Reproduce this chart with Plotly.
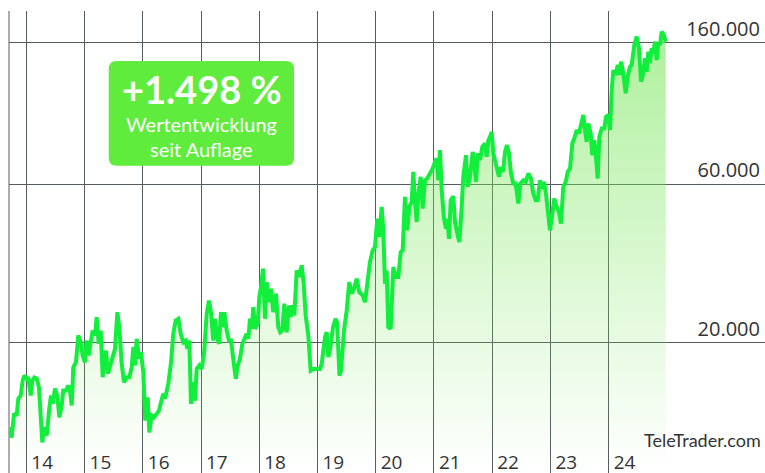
import plotly.graph_objects as go

# time in decimal years
years = [
    2013.708, 2013.749, 2013.789, 2013.835, 2013.863, 2013.904, 2013.938, 2013.966, 2014.007, 2014.034,
    2014.076, 2014.103, 2014.137, 2014.179, 2014.218, 2014.247, 2014.275, 2014.309, 2014.350, 2014.395,
    2014.424, 2014.453, 2014.493, 2014.532, 2014.567, 2014.608, 2014.635, 2014.682, 2014.721, 2014.750,
    2014.780, 2014.807, 2014.853, 2014.893, 2014.934, 2014.968, 2015.008, 2015.037, 2015.071, 2015.106,
    2015.140, 2015.180, 2015.209, 2015.243, 2015.278, 2015.312, 2015.339, 2015.369, 2015.403, 2015.437,
    2015.484, 2015.523, 2015.563, 2015.597, 2015.638, 2015.678, 2015.724, 2015.769, 2015.810, 2015.837,
    2015.866, 2015.896, 2015.935, 2015.969, 2016.009, 2016.043, 2016.084, 2016.112, 2016.153, 2016.193,
    2016.239, 2016.278, 2016.313, 2016.352, 2016.382, 2016.411, 2016.438, 2016.485, 2016.524, 2016.565,
    2016.610, 2016.651, 2016.696, 2016.737, 2016.764, 2016.799, 2016.828, 2016.867, 2016.897, 2016.926,
    2016.970, 2017.012, 2017.056, 2017.098, 2017.137, 2017.171, 2017.211, 2017.240, 2017.280, 2017.309,
    2017.343, 2017.372, 2017.400, 2017.441, 2017.480, 2017.515, 2017.554, 2017.596, 2017.630, 2017.669,
    2017.709, 2017.743, 2017.784, 2017.812, 2017.841, 2017.870, 2017.898, 2017.927, 2017.973, 2018.001,
    2018.030, 2018.064, 2018.099, 2018.128, 2018.167, 2018.202, 2018.241, 2018.287, 2018.327, 2018.361,
    2018.396, 2018.430, 2018.471, 2018.511, 2018.540, 2018.574, 2018.602, 2018.643, 2018.682, 2018.729,
    2018.763, 2018.797, 2018.842, 2018.883, 2018.928, 2018.986, 2019.043, 2019.072, 2019.100, 2019.129,
    2019.158, 2019.186, 2019.227, 2019.266, 2019.309, 2019.335, 2019.378, 2019.404, 2019.455, 2019.501,
    2019.546, 2019.587, 2019.627, 2019.673, 2019.718, 2019.776, 2019.816, 2019.855, 2019.901, 2019.948,
    2019.987, 2020.027, 2020.061, 2020.102, 2020.130, 2020.159, 2020.188, 2020.216, 2020.257, 2020.302,
    2020.348, 2020.387, 2020.429, 2020.463, 2020.502, 2020.542, 2020.576, 2020.618, 2020.645, 2020.674,
    2020.703, 2020.731, 2020.772, 2020.806, 2020.846, 2020.885, 2020.932, 2020.978, 2021.018, 2021.047,
    2021.074, 2021.103, 2021.133, 2021.172, 2021.206, 2021.229, 2021.258, 2021.287, 2021.332, 2021.361,
    2021.407, 2021.435, 2021.476, 2021.503, 2021.550, 2021.579, 2021.619, 2021.665, 2021.692, 2021.722,
    2021.751, 2021.790, 2021.830, 2021.876, 2021.905, 2021.933, 2021.962, 2021.991, 2022.019, 2022.048,
    2022.077, 2022.117, 2022.151, 2022.185, 2022.220, 2022.254, 2022.288, 2022.323, 2022.362, 2022.403,
    2022.448, 2022.482, 2022.534, 2022.575, 2022.620, 2022.666, 2022.705, 2022.747, 2022.781, 2022.820,
    2022.850, 2022.889, 2022.923, 2022.953, 2022.992, 2023.021, 2023.066, 2023.107, 2023.147, 2023.181,
    2023.220, 2023.262, 2023.296, 2023.336, 2023.375, 2023.409, 2023.451, 2023.490, 2023.524, 2023.564,
    2023.593, 2023.622, 2023.650, 2023.691, 2023.718, 2023.753, 2023.782, 2023.811, 2023.839, 2023.880,
    2023.924, 2023.954, 2023.993, 2024.022, 2024.052, 2024.079, 2024.120, 2024.155, 2024.182, 2024.211,
    2024.251, 2024.292, 2024.326, 2024.366, 2024.395, 2024.440, 2024.481, 2024.520, 2024.555, 2024.594,
    2024.623, 2024.653, 2024.680, 2024.709, 2024.738, 2024.766, 2024.795, 2024.824, 2024.852, 2024.881,
    2024.910, 2024.944, 2024.979,
]

values = [
    11140, 10380, 12250, 12080, 13580, 13880, 15390, 15940, 15610, 15750,
    13880, 15390, 15720, 15610, 14670, 12360, 10030, 11140, 10510, 12680,
    13880, 13120, 14570, 13880, 11940, 12950, 14360, 14360, 14880, 14360,
    12950, 16880, 17480, 21040, 20080, 18320, 17480, 20310, 18320, 20080,
    21770, 21040, 23890, 19860, 21770, 15750, 17680, 18950, 16160, 16880,
    18320, 19180, 24730, 22290, 17290, 15220, 15750, 15750, 16880, 19400,
    17090, 20560, 17930, 18730, 16300, 11660, 13710, 10750, 12080, 11940,
    12220, 12500, 13240, 14040, 13580, 14360, 15050, 17440, 21290, 23340,
    23620, 21290, 20080, 20310, 19180, 20310, 13100, 15220, 13390, 16690,
    17090, 16690, 18950, 24460, 26810, 24730, 20310, 23620, 20560, 19860,
    24730, 22290, 24730, 21770, 20310, 20310, 17290, 15580, 17090, 17900,
    19860, 20560, 21290, 20560, 23620, 22040, 25600, 22040, 22820, 27450,
    29420, 33420, 23620, 30450, 26500, 29090, 24730, 28100, 22290, 21520,
    21770, 26220, 21520, 25910, 23890, 25910, 24180, 33020, 31530, 34210,
    30120, 24180, 21040, 16490, 16690, 16690, 16690, 17290, 18950, 20790,
    21520, 18100, 19630, 22290, 23620, 23070, 15940, 16490, 21770, 25010,
    30450, 28100, 29090, 31180, 28410, 27780, 26500, 30450, 34990, 37940,
    38840, 47290, 41630, 51270, 43590, 30120, 33020, 22290, 22040, 33800,
    31530, 31530, 37510, 37940, 54950, 43590, 51270, 53070, 65360, 53680,
    46190, 55610, 63140, 50690, 61670, 62430, 64650, 66920, 70050, 71730,
    61670, 75960, 57540, 47290, 44120, 47290, 41100, 53680, 55220, 46190,
    42130, 40200, 51270, 63140, 73410, 58900, 63140, 75090, 69290, 60970,
    74280, 70860, 77760, 79620, 72540, 81420, 83350, 86280, 74280, 70860,
    68490, 63140, 67680, 65360, 75090, 78690, 74280, 64650, 60310, 60310,
    52490, 60310, 61670, 60970, 64650, 62430, 56270, 53680, 53680, 61670,
    58240, 60970, 56270, 48970, 43590, 47290, 54340, 51270, 49510, 45690,
    58900, 60970, 65360, 66920, 79620, 82420, 87280, 85350, 91480, 96930,
    87280, 80490, 91480, 85350, 73410, 81420, 72540, 62430, 83350, 88350,
    88350, 95780, 96930, 87280, 115200, 132300, 127900, 137100, 127900, 140270,
    129400, 112660, 126400, 135470, 137100, 157550, 166860, 153950, 122090, 129400,
    143630, 130800, 150370, 138730, 153950, 148730, 161150, 141900, 159400, 157550,
    172710, 168850, 161150,
]

year_ticks = [2014, 2015, 2016, 2017, 2018, 2019, 2020, 2021, 2022, 2023, 2024]
year_labels = ["14", "15", "16", "17", "18", "19", "20", "21", "22", "23", "24"]
value_ticks = [20000, 60000, 160000]
value_labels = ["20.000", "60.000", "160.000"]

performance_text = "+1.498 %"
performance_lines = ["Wertentwicklung", "seit Auflage"]
brand = "TeleTrader.com"

FONT = "Lato"
TICKFONT = "Open Sans"
GRID = "#565b60"
TXT = "#333333"

fig = go.Figure()
fig.add_trace(go.Scatter(
    x=years, y=values, mode="lines",
    line=dict(color="#12ee3c", width=4),
    fill="tozeroy",
    fillgradient=dict(
        type="vertical", start=8100, stop=172710,
        colorscale=[[0, "rgba(130,232,100,0.0)"], [1, "rgba(120,230,90,0.6)"]],
    ),
    hoverinfo="skip",
    showlegend=False,
))

W, H = 765, 473
ML, MT = 9, 11

def px_x(p):
    return (p - ML) / (W - ML)

def px_y(p):
    return (H - p) / (H - MT)

# rounded box behind the performance text
x0, x1 = px_x(108.7), px_x(294)
y0, y1 = px_y(165.7), px_y(61)
rx, ry = 8 / (W - ML), 8 / (H - MT)
path = (f"M {x0+rx},{y0} L {x1-rx},{y0} Q {x1},{y0} {x1},{y0+ry} "
        f"L {x1},{y1-ry} Q {x1},{y1} {x1-rx},{y1} L {x0+rx},{y1} "
        f"Q {x0},{y1} {x0},{y1-ry} L {x0},{y0+ry} Q {x0},{y0} {x0+rx},{y0} Z")
fig.add_shape(type="path", path=path, xref="paper", yref="paper",
              fillcolor="#5fec3c", line=dict(width=0), layer="above")
fig.add_shape(type="line", xref="paper", yref="paper", x0=0, x1=0, y0=0, y1=1,
              line=dict(color=GRID, width=1), layer="below")

fig.add_annotation(x=px_x(201.5), y=px_y(88.5), xref="paper", yref="paper",
                   text=f"<b>{performance_text}</b>", showarrow=False,
                   font=dict(family=FONT, size=38, color="white"),
                   xanchor="center", yanchor="middle", borderpad=0)
for line_text, cy in zip(performance_lines, [124, 149]):
    fig.add_annotation(x=px_x(201.5), y=px_y(cy), xref="paper", yref="paper",
                       text=line_text, showarrow=False,
                       font=dict(family=FONT, size=20, color="white"),
                       xanchor="center", yanchor="middle", borderpad=0)
fig.add_annotation(x=1, y=px_y(440), xref="paper", yref="paper",
                   text=brand, showarrow=False, xshift=-2,
                   font=dict(family=FONT, size=18, color=TXT),
                   xanchor="right", yanchor="middle")

fig.update_layout(
    width=W, height=H,
    margin=dict(l=ML, r=0, t=MT, b=0, autoexpand=False),
    paper_bgcolor="white", plot_bgcolor="white",
    font=dict(family=FONT, color=TXT),
    xaxis=dict(
        range=[2013.703, 2026.684], automargin=False,
        tickvals=year_ticks, ticktext=year_labels,
        showgrid=True, gridcolor=GRID, gridwidth=1,
        zeroline=False, showline=False, ticks="",
        ticklabelposition="inside right", ticklabelshift=5, ticklabelstandoff=-6,
        tickfont=dict(family=TICKFONT, size=19, color=TXT),
    ),
    yaxis=dict(
        type="log", range=[3.9092, 5.2995], side="right", automargin=False,
        tickvals=value_ticks, ticktext=value_labels,
        showgrid=True, gridcolor=GRID, gridwidth=1,
        zeroline=False, showline=False, ticks="",
        ticklabelposition="inside", ticklabelshift=-14, ticklabelstandoff=2,
        tickfont=dict(family=TICKFONT, size=20, color=TXT),
    ),
)

fig.write_html(
    "out.html",
    config={"displayModeBar": False},
    post_script="document.body.style.margin='0';document.body.style.overflow='hidden';",
)
